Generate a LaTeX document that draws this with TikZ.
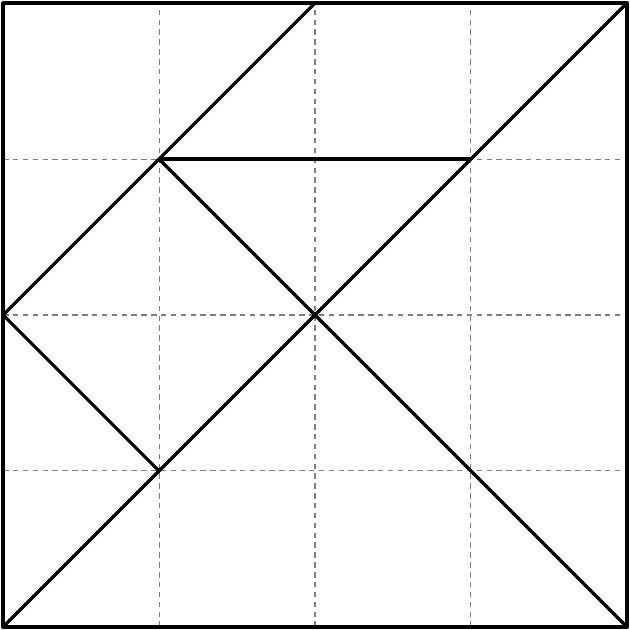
\documentclass[tikz,border=0pt]{standalone}
\usepackage{tikz}
\usetikzlibrary{positioning,calc}

\begin{document}
\begin{tikzpicture}[x=2cm,y=2cm,
    gridline/.style={gray, dash pattern=on 2pt off 1.6pt, line width=0.4pt},
    piece/.style={black, line width=1.2pt, line join=round}]
      \useasboundingbox (-0.02,-0.02) rectangle (4.02,4.02);
      \foreach \i in {1,2,3} {
        \draw[gridline] (\i,0) -- (\i,4);
        \draw[gridline] (0,\i) -- (4,\i);
      }
      \draw[piece] (0,0) rectangle (4,4);
      \draw[piece] (0,0) -- (4,4);
      \draw[piece] (4,0) -- (1,3) -- (2,4);
      \draw[piece] (1,3) -- (3,3);
      \draw[piece] (1,3) -- (0,2) -- (1,1);
    \end{tikzpicture}
\end{document}
